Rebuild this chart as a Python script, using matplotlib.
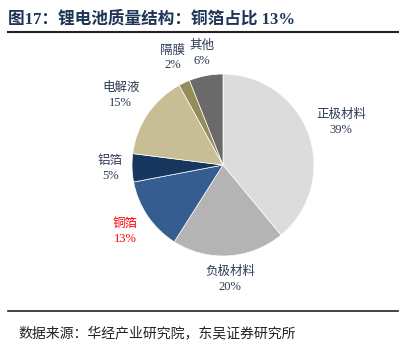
import numpy as np
import matplotlib.pyplot as plt
from matplotlib.lines import Line2D

plt.rcParams['font.family'] = ['Liberation Serif', 'Noto Sans CJK SC']

categories = ['正极材料', '负极材料', '铜箔', '铝箔', '电解液', '隔膜', '其他']
shares = [39, 20, 13, 5, 15, 2, 6]
colors = ['#DCDCDC', '#B4B4B4', '#365D8F', '#17375E', '#C8BE96', '#948C5A', '#6A6A6A']
label_colors = ['#2E3B55'] * 7
label_colors[2] = '#FF0000'
# distance of each label from the centre, in pie radii
label_radius = [1.38, 1.26, 1.3, 1.24, 1.36, 1.3, 1.25]

W, H = 409, 357
fig = plt.figure(figsize=(W / 100, H / 100), dpi=100)

cx, cy, r = 223, 165, 91
ax = fig.add_axes([(cx - r) / W, 1 - (cy + r) / H, 2 * r / W, 2 * r / H])
wedges, _ = ax.pie(shares, colors=colors, startangle=90, counterclock=False,
                   wedgeprops=dict(linewidth=0.5, edgecolor='white'))
for w, c, v, col, rad in zip(wedges, categories, shares, label_colors, label_radius):
    ang = np.deg2rad((w.theta1 + w.theta2) / 2)
    ax.text(rad * np.cos(ang), rad * np.sin(ang), f'{c}\n{v}%', color=col,
            fontsize=9, linespacing=1.3, ha='center', va='center')
ax.set_xlim(-1, 1)
ax.set_ylim(-1, 1)
ax.set_aspect('equal')

fig.text(8 / W, 1 - 19 / H, '图17：锂电池质量结构：铜箔占比 13%', fontsize=12,
         fontweight='bold', color='#1F3557', ha='left', va='center')
fig.add_artist(Line2D([8 / W, 398 / W], [1 - 32 / H, 1 - 32 / H], color='#222222', lw=1.5))
fig.add_artist(Line2D([8 / W, 398 / W], [1 - 311 / H, 1 - 311 / H], color='#222222', lw=1.2))
fig.text(18 / W, 1 - 333 / H, '数据来源：华经产业研究院，东吴证券研究所', fontsize=10,
         color='#222222', ha='left', va='center')

fig.savefig('out.png', dpi=100)
